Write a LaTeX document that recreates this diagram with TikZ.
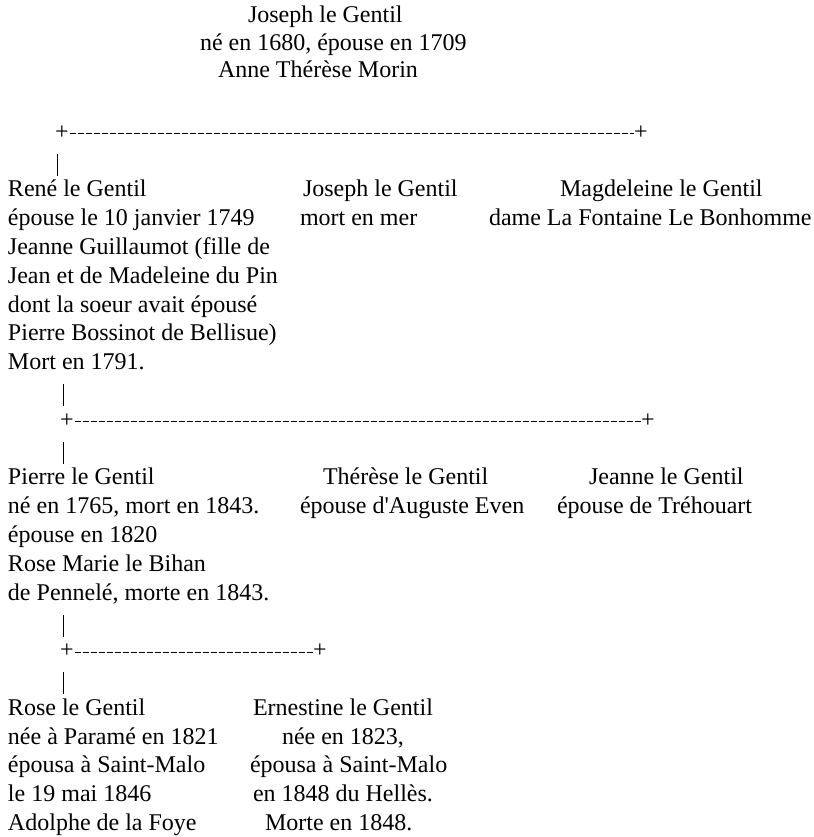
\documentclass[tikz,border=0pt]{standalone}
\usepackage{fontspec}
\setmainfont{Liberation Serif}
\begin{document}
\begin{tikzpicture}[x=1pt,y=-1pt,
  txt/.style={anchor=base west,inner sep=0pt,outer sep=0pt,font=\fontsize{24pt}{28.8pt}\selectfont,text=black},
  plusnode/.style={txt},
  dashline/.style={line width=1.2pt,dash pattern=on 5.9pt off 2.1pt},
  pipe/.style={line width=1pt}]
\useasboundingbox (0,0) rectangle (813,837);
% ---- generation 1
\node[txt] (g1a) at (248,23) {Joseph le Gentil};
\node[txt] (g1b) at (200,50.5) {né en 1680, épouse en 1709};
\node[txt] (g1c) at (218,78) {Anne Thérèse Morin};
% bracket 1
\node[plusnode] (p1a) at (55.2,139.2) {+};
\node[plusnode] (p1b) at (634.2,139.2) {+};
\draw[dashline] ([xshift=1pt,yshift=5.4pt]p1a.base east) -- ([yshift=5.4pt]p1b.base west);
\coordinate (v1t) at (57,154);
\coordinate (v1b) at (57,176);
\draw[pipe] (v1t) -- (v1b);
% ---- generation 2
\node[txt] (r7a) at (8,196.8) {René le Gentil};
\node[txt] (r7b) at (303,196.8) {Joseph le Gentil};
\node[txt] (r7c) at (560,196.8) {Magdeleine le Gentil};
\node[txt] (r8a) at (8,225.6) {épouse le 10 janvier 1749};
\node[txt] (r8b) at (300,225.6) {mort en mer};
\node[txt] (r8c) at (489,225.6) {dame La Fontaine Le Bonhomme};
\node[txt] (r9a) at (8,254.4) {Jeanne Guillaumot (fille de};
\node[txt] (r10a) at (8,283.2) {Jean et de Madeleine du Pin};
\node[txt] (r11a) at (8,312) {dont la soeur avait épousé};
\node[txt] (r12a) at (8,340.8) {Pierre Bossinot de Bellisue)};
\node[txt] (r13a) at (8,369.6) {Mort en 1791.};
\coordinate (v2t) at (63,384.4);
\coordinate (v2b) at (63,406.4);
\draw[pipe] (v2t) -- (v2b);
% bracket 2
\node[plusnode] (p2a) at (60.2,427.2) {+};
\node[plusnode] (p2b) at (641.2,427.2) {+};
\draw[dashline] ([xshift=1pt,yshift=5.4pt]p2a.base east) -- ([yshift=5.4pt]p2b.base west);
\coordinate (v3t) at (63,442);
\coordinate (v3b) at (63,464);
\draw[pipe] (v3t) -- (v3b);
% ---- generation 3
\node[txt] (r17a) at (8,484.8) {Pierre le Gentil};
\node[txt] (r17b) at (323,484.8) {Thérèse le Gentil};
\node[txt] (r17c) at (589,484.8) {Jeanne le Gentil};
\node[txt] (r18a) at (8,513.6) {né en 1765, mort en 1843.};
\node[txt] (r18b) at (300,513.6) {épouse d\textquotesingle Auguste Even};
\node[txt] (r18c) at (557,513.6) {épouse de Tréhouart};
\node[txt] (r19a) at (8,542.4) {épouse en 1820};
\node[txt] (r20a) at (8,571.2) {Rose Marie le Bihan};
\node[txt] (r21a) at (8,600) {de Pennelé, morte en 1843.};
\coordinate (v4t) at (63,614.8);
\coordinate (v4b) at (63,636.8);
\draw[pipe] (v4t) -- (v4b);
% bracket 3
\node[plusnode] (p3a) at (60.2,657.6) {+};
\node[plusnode] (p3b) at (313.2,657.6) {+};
\draw[dashline] ([xshift=1pt,yshift=5.4pt]p3a.base east) -- ([yshift=5.4pt]p3b.base west);
\coordinate (v5t) at (63,672.4);
\coordinate (v5b) at (63,694.4);
\draw[pipe] (v5t) -- (v5b);
% ---- generation 4
\node[txt] (r25a) at (8,715.2) {Rose le Gentil};
\node[txt] (r25b) at (253,715.2) {Ernestine le Gentil};
\node[txt] (r26a) at (8,744) {née à Paramé en 1821};
\node[txt] (r26b) at (282,744) {née en 1823,};
\node[txt] (r27a) at (8,772.8) {épousa à Saint-Malo};
\node[txt] (r27b) at (250,772.8) {épousa à Saint-Malo};
\node[txt] (r28a) at (8,801.6) {le 19 mai 1846};
\node[txt] (r28b) at (253,801.6) {en 1848 du Hellès.};
\node[txt] (r29a) at (8,830.4) {Adolphe de la Foye};
\node[txt] (r29b) at (265,830.4) {Morte en 1848.};
\end{tikzpicture}
\end{document}
